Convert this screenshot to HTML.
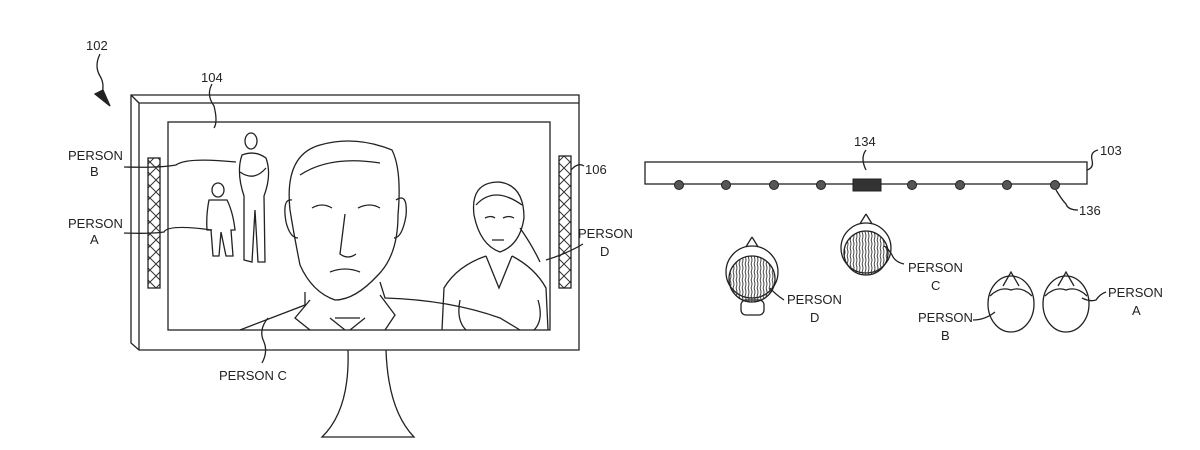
<!DOCTYPE html>
<html><head><meta charset="utf-8"><style>
html,body{margin:0;padding:0;background:#fff;}
svg{display:block;}
text{font-family:"Liberation Sans",sans-serif;font-size:13px;fill:#222;}
</style></head><body>
<svg width="1200" height="450" viewBox="0 0 1200 450" xmlns="http://www.w3.org/2000/svg">
<defs>
<pattern id="xx" width="12" height="12" patternUnits="userSpaceOnUse">
<path d="M0 0L12 12M12 0L0 12" stroke="#333" stroke-width="1"/>
</pattern>
<pattern id="hair" width="6" height="8" patternUnits="userSpaceOnUse">
<path d="M1 0Q3 4 1 8M4 0Q6 4 4 8" stroke="#333" stroke-width="0.9" fill="none"/>
</pattern>
</defs>
<g fill="none" stroke="#222" stroke-width="1.3">
<path d="M100 54 Q94 66 100 76 Q106 86 100 98"/>
<path d="M95 94 L110 106 L103 90Z" fill="#222"/>
<path d="M131 95 L579 95 L579 350 L139 350 L131 343 Z"/>
<path d="M139 103 L579 103 M139 103 L139 350 M131 95 L139 103"/>
<rect x="168" y="122" width="382" height="208"/>
<rect x="148" y="158" width="12" height="130" fill="url(#xx)"/>
<rect x="559" y="156" width="12" height="132" fill="url(#xx)"/>
<path d="M348 350 Q350 410 322 437 L414 437 Q388 410 386 350"/>
<path d="M212 84 Q206 95 214 106 Q218 122 214 128"/>
<path d="M124 167 Q160 168 176 165 Q186 157 236 162"/>
<path d="M124 233 Q150 234 164 232 Q168 224 212 230"/>
<path d="M571 170 Q578 162 584 166"/>
<path d="M583 244 Q566 254 546 260"/>
<path d="M268 318 Q258 330 264 342 Q268 352 262 363"/>
<path d="M290 210 Q284 155 320 145 Q355 135 392 150 Q402 170 398 215 Q398 255 378 275 Q355 300 335 300 Q312 292 300 265 Q294 235 290 210Z"/>
<path d="M300 175 Q330 155 380 163 M292 200 Q282 198 286 222 Q290 238 298 238 M396 200 Q408 192 406 216 Q402 238 394 238"/>
<path d="M312 208 Q322 202 332 208 M358 208 Q370 202 380 208 M345 214 L340 254 Q348 260 356 254 M330 272 Q345 266 360 272"/>
<path d="M305 292 L305 305 L240 330 M380 282 L385 298 Q450 300 500 318 L520 330"/>
<path d="M310 300 L295 318 L310 330 M380 295 L395 315 L385 330 M330 318 L345 330 M365 318 L350 330 M335 318 L360 318"/>
<path d="M474 215 Q470 182 499 182 Q524 185 524 218 Q520 245 500 252 Q480 245 474 215Z"/>
<path d="M476 205 Q494 185 522 205 M520 228 Q532 245 540 262 M485 218 Q491 215 495 218 M503 218 Q509 215 514 218 M492 240 L504 240"/>
<path d="M486 256 Q457 266 444 288 L442 330 M512 256 Q535 268 546 288 L548 330 M486 256 L499 288 L512 256 M460 300 Q456 320 466 330 M538 300 Q544 320 534 330"/>
<ellipse cx="251" cy="141" rx="6" ry="8"/>
<path d="M242 155 Q236 172 244 196 L244 260 L252 262 L255 210 L258 262 L265 262 L264 196 Q272 175 266 158 Q255 150 242 155Z M240 172 Q254 182 266 168"/>
<ellipse cx="218" cy="190" rx="6" ry="7"/>
<path d="M209 200 Q206 215 207 230 L211 230 L213 256 L219 256 L221 232 L226 256 L233 256 L231 230 L235 230 Q233 212 227 200Z"/>
<rect x="645" y="162" width="442" height="22"/>
<path d="M866 150 Q860 158 866 170"/>
<path d="M1098 150 Q1090 152 1092 160 Q1094 168 1087 170"/>
<path d="M1056 190 Q1062 200 1066 204 Q1068 210 1078 210"/>
</g>
<g fill="#555" stroke="#222">
<circle cx="679" cy="185" r="4.5"/><circle cx="726" cy="185" r="4.5"/><circle cx="774" cy="185" r="4.5"/><circle cx="821" cy="185" r="4.5"/>
<circle cx="912" cy="185" r="4.5"/><circle cx="960" cy="185" r="4.5"/><circle cx="1007" cy="185" r="4.5"/><circle cx="1055" cy="185" r="4.5"/>
<rect x="853" y="179" width="28" height="12" fill="#333"/>
</g>
<g stroke="#222" stroke-width="1.3">
<path d="M866 214 L858 227 M866 214 L874 227" fill="none"/>
<circle cx="866" cy="248" r="25" fill="#fff"/>
<circle cx="866" cy="253" r="22" fill="url(#hair)"/>
<path d="M752 237 L744 250 M752 237 L760 250" fill="none"/>
<rect x="741" y="300" width="23" height="15" rx="5" fill="#fff"/>
<circle cx="752" cy="272" r="26" fill="#fff"/>
<circle cx="752" cy="279" r="23" fill="url(#hair)"/>
<ellipse cx="1011" cy="304" rx="23" ry="28" fill="#fff"/>
<ellipse cx="1066" cy="304" rx="23" ry="28" fill="#fff"/>
<path d="M990 296 Q1000 286 1011 290 Q1022 286 1032 296 M1045 296 Q1055 286 1066 290 Q1077 286 1087 296 M1003 286 L1011 272 L1019 286 M1058 286 L1066 272 L1074 286" fill="none"/>
<path d="M904 264 Q895 262 892 255 Q888 248 884 246 M784 300 Q775 294 770 288 M973 320 Q985 320 995 312 M1106 292 Q1100 294 1096 300 Q1090 302 1082 298" fill="none"/>
</g>
<g>
<text x="86" y="50">102</text>
<text x="201" y="82">104</text>
<text x="68" y="160">PERSON</text><text x="90" y="176">B</text>
<text x="68" y="228">PERSON</text><text x="90" y="244">A</text>
<text x="585" y="174">106</text>
<text x="578" y="238">PERSON</text><text x="600" y="256">D</text>
<text x="219" y="380">PERSON C</text>
<text x="854" y="146">134</text>
<text x="1100" y="155">103</text>
<text x="1079" y="215">136</text>
<text x="908" y="272">PERSON</text><text x="931" y="290">C</text>
<text x="787" y="304">PERSON</text><text x="810" y="322">D</text>
<text x="918" y="322">PERSON</text><text x="941" y="340">B</text>
<text x="1108" y="297">PERSON</text><text x="1132" y="315">A</text>
</g>
</svg>
</body></html>
